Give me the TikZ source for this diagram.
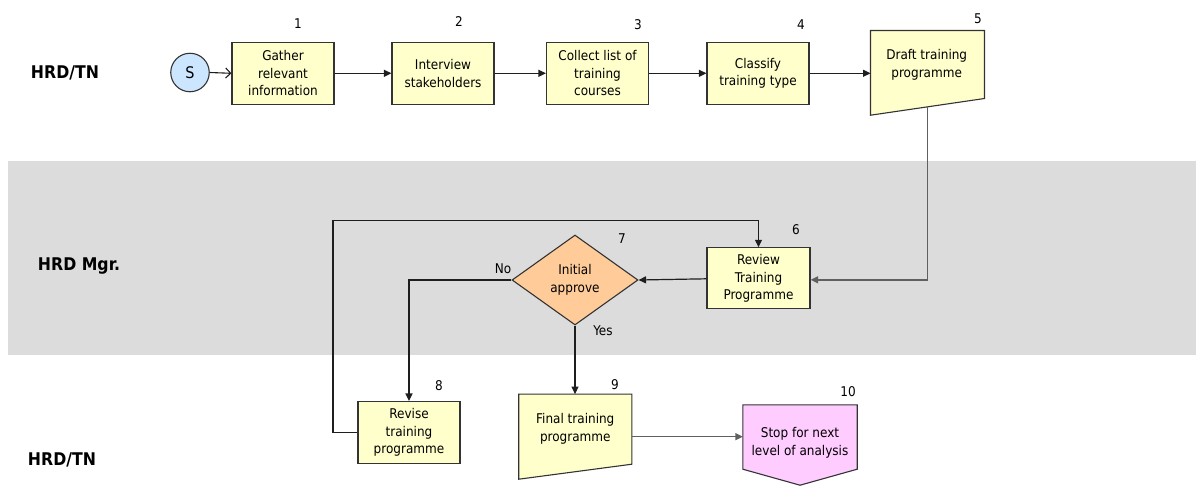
\documentclass[tikz,border=0pt]{standalone}
\usepackage{fontspec}
\setmainfont{DejaVu Sans Condensed}
\usetikzlibrary{arrows.meta,shapes.geometric}

\definecolor{boxfill}{HTML}{FFFFCC}
\definecolor{decfill}{HTML}{FFCC99}
\definecolor{startfill}{HTML}{CCE6FF}
\definecolor{stopfill}{HTML}{FFCCFF}
\definecolor{laneband}{HTML}{DCDCDC}
\definecolor{edge}{HTML}{333333}
\definecolor{flow}{HTML}{1E1E1E}
\definecolor{flowgray}{HTML}{606060}

\begin{document}
\begin{tikzpicture}[x=1pt,y=-1pt,
  font=\fontsize{13.4}{17.6}\selectfont,
  txt/.style={align=center, inner sep=0pt},
  lane/.style={inner sep=0pt, font=\fontsize{17.5}{20}\selectfont\bfseries},
  procbox/.style={draw=edge, fill=boxfill, line width=1.1pt,
    minimum width=102pt, minimum height=62pt, inner sep=0pt, align=center},
  slot/.style 2 args={draw=none, minimum width=#1, minimum height=#2, inner sep=0pt},
  shapeline/.style={draw=edge, line width=1.1pt},
  startnode/.style={circle, draw=edge, fill=startfill, line width=1.1pt,
    minimum size=38.5pt, inner sep=0pt, font=\fontsize{16}{18}\selectfont},
  decision/.style={diamond, draw=edge, fill=decfill, line width=1.1pt,
    minimum width=126pt, minimum height=90pt, inner sep=0pt, align=center},
  arrow/.style={draw=flow, line width=1.2pt, -{Triangle[length=7.5pt,width=7pt]}},
  grayarrow/.style={draw=flowgray, line width=1.4pt, -{Triangle[length=7.5pt,width=7pt]}},
  openarrow/.style={draw=flow, line width=1.1pt, -{Straight Barb[length=5pt,width=10pt]}}
]
\useasboundingbox (0,0) rectangle (1197,485);

% middle swimlane band
\fill[laneband] (8,161) rectangle (1196,355);

% lane titles
\node[lane] (laneA) at (65,73) {HRD/TN};
\node[lane] (laneB) at (79,266) {HRD Mgr.};
\node[lane] (laneC) at (62,460) {HRD/TN};

% first row
\node[startnode] (s) at (190,72.5) {S};
\node[procbox] (n1) at (283,73.3) {Gather\\relevant\\information};
\node[procbox] (n2) at (443,73.3) {Interview\\stakeholders};
\node[procbox] (n3) at (597.5,73.3) {Collect list of\\training\\courses};
\node[procbox] (n4) at (758,73.3) {Classify\\training type};

% manual-input shape 5
\node[slot={113.6pt}{84.3pt}] (n5) at (927.5,72.85) {};
\fill[boxfill] (n5.north west) -- (n5.north east) -- ([yshift=16.7pt]n5.south east)
  -- (n5.south west) -- cycle;
\draw[shapeline] (n5.north west) -- (n5.north east) -- ([yshift=16.7pt]n5.south east)
  -- (n5.south west) -- cycle;
\node[txt] (n5t) at (926.7,65) {Draft training\\programme};

% review and decision
\node[procbox, minimum width=103pt, minimum height=61pt] (n6) at (758.5,278.3) {Review\\Training\\Programme};
\node[decision] (n7) at (575,280) {Initial\\approve};

% bottom row
\node[procbox] (n8) at (409,432.5) {Revise\\training\\programme};

\node[slot={112.7pt}{84.7pt}] (n9) at (575.3,436.65) {};
\fill[boxfill] (n9.north west) -- (n9.north east) -- ([yshift=15pt]n9.south east)
  -- (n9.south west) -- cycle;
\draw[shapeline] (n9.north west) -- (n9.north east) -- ([yshift=15pt]n9.south east)
  -- (n9.south west) -- cycle;
\node[txt] (n9t) at (575.3,429) {Final training\\programme};

% off-page stop shape 10
\node[slot={114pt}{64pt}] (n10) at (800,437) {};
\fill[stopfill] (n10.south west) -- (n10.north west) -- (n10.north east)
  -- (n10.south east) -- ([yshift=-16pt]n10.south) -- cycle;
\draw[shapeline] (n10.south west) -- (n10.north west) -- (n10.north east)
  -- (n10.south east) -- ([yshift=-16pt]n10.south) -- cycle;
\node[txt] (n10t) at (800,443) {Stop for next\\level of analysis};

% step numbers
\node[txt] (k1) at (298,24) {1};
\node[txt] (k2) at (459,22) {2};
\node[txt] (k3) at (638,25) {3};
\node[txt] (k4) at (801,25) {4};
\node[txt] (k5) at (978,19) {5};
\node[txt] (k6) at (796,230) {6};
\node[txt] (k7) at (622,239) {7};
\node[txt] (k8) at (439,386) {8};
\node[txt] (k9) at (615,385) {9};
\node[txt] (k10) at (848,392) {10};

% connectors
\draw[openarrow] (s.east) -- (n1.west);
\draw[arrow] (n1.east) -- (n2.west);
\draw[arrow] (n2.east) -- (n3.west);
\draw[arrow] (n3.east) -- (n4.west);
\draw[arrow] (n4.east) -- (n4.east -| n5.west);
\draw[grayarrow] ([yshift=8.3pt]n5.south) |- ([yshift=-1.5pt]n6.east);
\draw[arrow] ([yshift=-0.5pt]n6.west) -- (n7.east);
\draw[arrow] (n7.west) -| (n8.north);
\draw[arrow] (n7.south) -- (n9.north -| n7.south);
\coordinate (loop) at (333,220.7);
\draw[arrow] (n8.west) -| (loop) -| (n6.north);
\draw[grayarrow] (n9.east) -- (n9.east -| n10.west);

% decision branch labels
\node[txt] (no) at (503,269) {No};
\node[txt] (yes) at (603,331) {Yes};
\end{tikzpicture}
\end{document}
